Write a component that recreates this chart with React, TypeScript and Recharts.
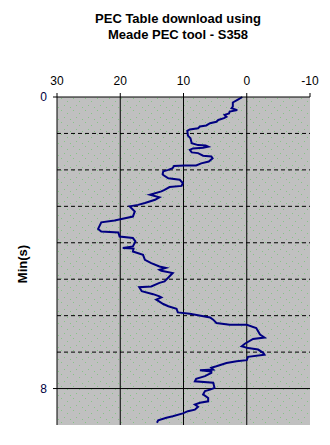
import React from 'react';
import { LineChart, Line, XAxis, YAxis, CartesianGrid, Label } from 'recharts';

const titleLines = ['PEC Table download using', 'Meade PEC tool - S358'];
const yAxisTitle = 'Min(s)';

const xTicks = [30, 20, 10, 0, -10];
const xDomain = [-10, 30];
const yTicks = [0, 8];
const yDomain = [0, 9];
const majorVertical = [20, 10, 0];
const majorHorizontal = [8];
const minorHorizontal = [1, 2, 3, 4, 5, 6, 7];

const minutes = [
  0.0, 0.07, 0.15, 0.26, 0.31, 0.36, 0.4, 0.45, 0.49, 0.54, 0.58, 0.63, 0.68, 0.72, 0.78, 0.81, 0.86, 0.89, 0.93,
  1.06, 1.13, 1.27, 1.32, 1.33, 1.36, 1.39, 1.41, 1.45, 1.52, 1.54, 1.61, 1.63, 1.68, 1.77, 1.82, 1.88, 1.88, 1.89,
  1.95, 2.0, 2.04, 2.12, 2.14, 2.23, 2.27, 2.36, 2.44, 2.47, 2.55, 2.59, 2.68, 2.75, 2.82, 2.91, 2.96, 3.0, 3.14,
  3.28, 3.35, 3.39, 3.44, 3.62, 3.69, 3.72, 3.83, 3.87, 3.96, 4.1, 4.14, 4.16, 4.24, 4.33, 4.47, 4.56, 4.65, 4.69,
  4.74, 4.77, 4.83, 4.92, 5.06, 5.1, 5.2, 5.22, 5.33, 5.41, 5.47, 5.5, 5.56, 5.68, 5.74, 5.81, 5.91, 5.95, 5.99,
  6.05, 6.11, 6.2, 6.25, 6.25, 6.34, 6.52, 6.6, 6.64, 6.77, 6.84, 6.89, 6.93, 7.02, 7.07, 7.13, 7.22, 7.25, 7.3,
  7.39, 7.43, 7.48, 7.5, 7.53, 7.57, 7.66, 7.73, 7.8, 7.84, 7.98, 8.03, 8.07, 8.16, 8.26, 8.35, 8.39, 8.44, 8.5,
  8.58, 8.62, 8.68, 8.76, 8.8, 8.87, 8.94,
];

const pecError = [
  0.7, 1.4, 2.2, 2.2, 2.4, 1.5, 2.7, 2.8, 3.5, 3.2, 3.6, 4.5, 4.8, 5.8, 6.4, 7.4, 7.7, 9.0, 9.4,
  9.3, 8.9, 8.7, 7.7, 6.5, 6.1, 6.9, 8.5, 9.0, 8.7, 7.7, 6.9, 5.6, 5.4, 6.0, 7.2, 8.0, 9.8, 11.5,
  11.7, 12.4, 13.2, 13.3, 13.2, 12.4, 10.6, 10.1, 10.3, 12.2, 13.0, 13.5, 15.3, 13.8, 14.5, 16.1, 17.2, 18.5, 17.7,
  18.0, 19.8, 20.9, 23.0, 23.5, 23.0, 20.3, 20.1, 18.0, 17.6, 18.0, 19.6, 17.9, 18.0, 16.4, 16.1, 15.1, 13.8, 12.8,
  13.8, 13.5, 11.7, 12.2, 13.0, 13.8, 15.1, 17.0, 16.6, 14.8, 13.8, 13.5, 14.3, 13.2, 12.4, 11.1, 10.9, 9.0, 7.7,
  5.8, 5.3, 4.8, 2.7, 0.0, -1.5, -2.1, -2.8, -1.0, 0.3, 0.8, -0.2, -1.8, -2.6, -2.8, -0.2, 0.0, 1.6, 3.2,
  4.8, 5.6, 5.3, 7.4, 5.6, 5.6, 6.6, 8.0, 8.2, 5.3, 5.1, 5.8, 6.6, 6.9, 6.1, 6.1, 7.4, 8.2, 7.7,
  8.2, 9.3, 10.1, 11.7, 12.7, 14.0, 14.2,
];

const data = minutes.map((m, i) => ({ m, v: pecError[i] }));

const FONT = '"Liberation Sans", Arial, sans-serif';

export default function App() {
  return (
    <div style={{ position: 'absolute', left: 0, top: 0, width: 330, height: 445, background: '#fff', fontFamily: FONT }}>
      <div
        style={{
          position: 'absolute',
          left: 28,
          top: 11,
          width: 300,
          textAlign: 'center',
          fontSize: 13,
          lineHeight: '16px',
          fontWeight: 'bold',
          color: '#000',
        }}
      >
        {titleLines.map((t) => (
          <div key={t}>{t}</div>
        ))}
      </div>
      <LineChart
        width={330}
        height={445}
        data={data}
        layout="vertical"
        margin={{ top: 57, right: 20, bottom: 20, left: 5 }}
      >
        <defs>
          <pattern id="dots" x="0" y="0" width="12" height="12" patternUnits="userSpaceOnUse">
            <rect x="0" y="0" width="12" height="12" fill="#c0c0c0" />
            <rect x="1" y="2" width="1" height="1" fill="#86c486" />
            <rect x="7" y="5" width="1" height="1" fill="#86c486" />
            <rect x="4" y="9" width="1" height="1" fill="#86c486" />
            <rect x="10" y="11" width="1" height="1" fill="#86c486" />
          </pattern>
        </defs>
        <CartesianGrid
          fill="url(#dots)"
          stroke="#000"
          strokeWidth={1}
          verticalValues={majorVertical}
          horizontalValues={majorHorizontal}
        />
        <CartesianGrid
          vertical={false}
          stroke="#000"
          strokeWidth={1}
          strokeDasharray="4 3"
          horizontalValues={minorHorizontal}
        />
        <XAxis
          type="number"
          dataKey="v"
          orientation="top"
          reversed
          domain={xDomain}
          ticks={xTicks}
          interval={0}
          height={40}
          tickSize={4}
          tickMargin={8}
          axisLine={{ stroke: '#000' }}
          tickLine={{ stroke: '#000' }}
          tick={{ fill: '#000', fontSize: 12, fontFamily: FONT }}
        />
        <XAxis
          xAxisId="b"
          type="number"
          orientation="bottom"
          domain={xDomain}
          reversed
          height={0}
          tick={false}
          tickLine={false}
          axisLine={{ stroke: '#808080' }}
        />
        <YAxis
          type="number"
          dataKey="m"
          domain={yDomain}
          ticks={yTicks}
          interval={0}
          width={52}
          tickSize={4}
          tickMargin={6}
          axisLine={{ stroke: '#000' }}
          tickLine={{ stroke: '#000' }}
          tick={{ fill: '#000040', fontSize: 12, fontFamily: FONT }}
        >
          <Label
            value={yAxisTitle}
            angle={-90}
            position="center"
            dx={-9}
            dy={3}
            style={{ fontWeight: 'bold', fontSize: 13, fontFamily: FONT, fill: '#000' }}
          />
        </YAxis>
        <YAxis
          yAxisId="r"
          type="number"
          orientation="right"
          domain={yDomain}
          width={0}
          tick={false}
          tickLine={false}
          axisLine={{ stroke: '#808080' }}
        />
        <Line
          dataKey="v"
          type="linear"
          stroke="#000080"
          strokeWidth={2}
          dot={false}
          isAnimationActive={false}
        />
      </LineChart>
    </div>
  );
}
